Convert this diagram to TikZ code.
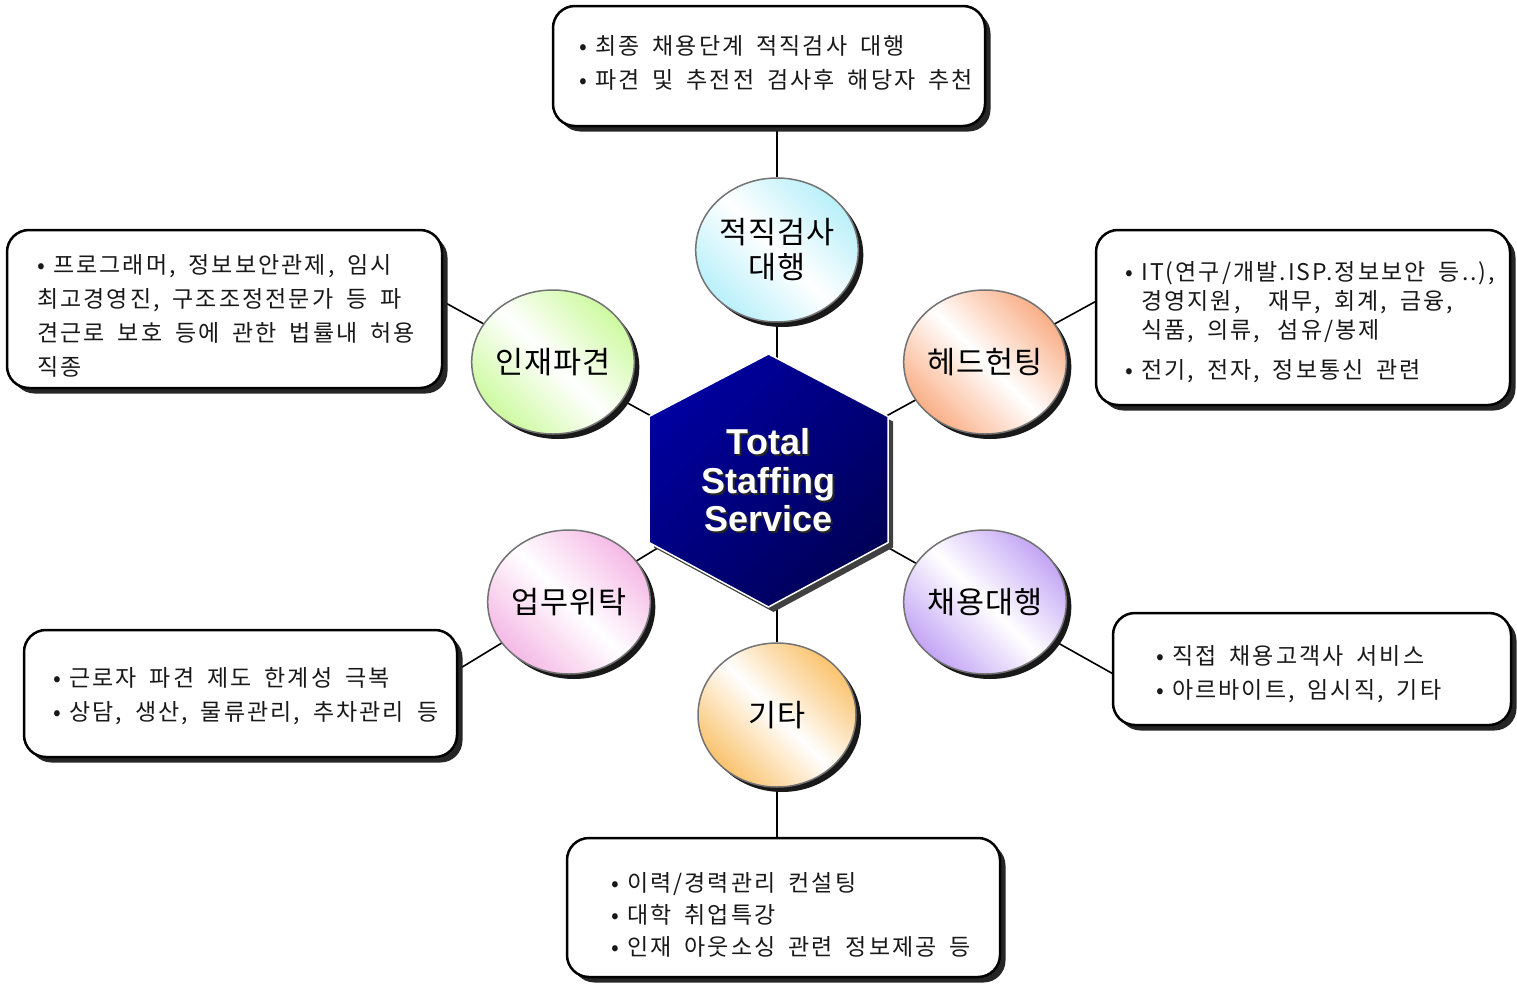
\documentclass[tikz,border=0pt]{standalone}
\usepackage{fontspec}
\setmainfont{Noto Sans CJK KR}[WordSpace=1.8,LetterSpace=9]
\newfontfamily\bubfont{Noto Sans CJK KR}[LetterSpace=3]
\newfontfamily\hexfont{Liberation Sans}[Ligatures=CommonOff]
\usetikzlibrary{shapes.geometric,shadows,backgrounds,calc}
\newcommand\bul{\makebox[16pt][l]{•}}
\definecolor{hexA}{RGB}{0,0,160}
\definecolor{hexB}{RGB}{0,0,88}
\definecolor{cCyan}{RGB}{185,240,250}
\definecolor{cGreen}{RGB}{205,250,160}
\definecolor{cPeach}{RGB}{250,175,135}
\definecolor{cPink}{RGB}{245,185,230}
\definecolor{cLav}{RGB}{195,165,245}
\definecolor{cOrange}{RGB}{250,195,110}
\definecolor{txt}{RGB}{25,25,25}
\tikzset{
  box/.style={draw=black, line width=2.5pt, fill=white, rounded corners=22pt, inner sep=0pt,
    drop shadow={shadow xshift=5.5pt, shadow yshift=-5.5pt, opacity=1, fill=black!85}},
  bubble/.style={ellipse, draw=black!55, line width=1.5pt, inner sep=0pt,
    minimum width=158pt, minimum height=144pt, align=center,
    font=\bubfont\fontsize{30.5}{35}\selectfont,
    drop shadow={shadow xshift=5pt, shadow yshift=-5pt, opacity=1, fill=black!90},
    top color=#1, bottom color=#1, middle color=white, shading angle=-45},
  line/.style={draw=black, line width=1.6pt},
  boxtext/.style={anchor=base west, inner sep=0pt, text=txt, font=\fontsize{23}{30}\selectfont},
  hextext/.style={align=center, inner sep=0pt, font=\hexfont\bfseries\fontsize{36}{38.5}\selectfont}
}
\begin{document}
\begin{tikzpicture}[x=1pt,y=-1pt]
\useasboundingbox (0,0) rectangle (1517,985);

% boxes
\node[box, minimum width=432pt, minimum height=120pt] (bTop) at (769,66) {};
\node[box, minimum width=435pt, minimum height=158pt] (bIn) at (224.5,309) {};
\node[box, minimum width=414pt, minimum height=175pt] (bHH) at (1303,317.5) {};
\node[box, minimum width=433pt, minimum height=127pt] (bEM) at (240.5,693.5) {};
\node[box, minimum width=398pt, minimum height=112pt] (bCY) at (1312,669) {};
\node[box, minimum width=433pt, minimum height=139pt] (bEtc) at (783.5,907.5) {};

% hexagon
\coordinate (hexc) at (768.5,480.5);
\filldraw[draw=white, line width=1.5pt, top color=hexA, bottom color=hexB, shading angle=45,
  drop shadow={shadow xshift=5pt, shadow yshift=-5pt, opacity=1, fill=black!75}]
  ($(hexc)+(0,-126.5)$) -- ($(hexc)+(119.5,-64)$) -- ($(hexc)+(119.5,62)$) --
  ($(hexc)+(0,126.5)$) -- ($(hexc)+(-119.5,62)$) -- ($(hexc)+(-119.5,-64)$) -- cycle;
\node[hextext, text=black!85] at ($(hexc)+(2,2)$) {Total\\Staffing\\Service};
\node[hextext, text=white] (hex) at (hexc) {Total\\Staffing\\Service};

% bubbles
\node[bubble=cCyan] (cTop) at (777,250) {적직검사\\대행};
\node[bubble=cGreen] (cIn) at (553,362) {인재파견};
\node[bubble=cPeach] (cHH) at (985,362) {헤드헌팅};
\node[bubble=cPink] (cEM) at (569,602) {업무위탁};
\node[bubble=cLav] (cCY) at (985,602) {채용대행};
\node[bubble=cOrange] (cEtc) at (777,715) {기타};

% connectors
\begin{scope}[on background layer]
\path[line] (cTop) -- (cTop |- hexc);
\path[line] (cTop) -- (cTop |- bTop.center);
\path[line] (cEtc) -- (cEtc |- hexc);
\path[line] (cEtc) -- (cEtc |- bEtc.center);
\path[line] (hexc) -- ($(hexc)!1.8!(cIn)$);
\path[line] (hexc) -- ($(hexc)!1.8!(cHH)$);
\path[line] (hexc) -- ($(hexc)!1.8!(cEM)$);
\path[line] (hexc) -- ($(hexc)!1.8!(cCY)$);
\end{scope}

% texts
\node[boxtext] (tTa) at (579,54) {\bul 최종 채용단계 적직검사 대행};
\node[boxtext] (tTb) at (579,88) {\bul 파견 및 추전전 검사후 해당자 추천};

\node[boxtext] (tIa) at (37,273) {\bul 프로그래머, 정보보안관제, 임시};
\node[boxtext] (tIb) at (37,307) {최고경영진, 구조조정전문가 등 파};
\node[boxtext] (tIc) at (37,341) {견근로 보호 등에 관한 법률내 허용};
\node[boxtext] (tId) at (37,375) {직종};

\node[boxtext] (tHa) at (1125,280) {\bul IT(연구/개발.ISP.정보보안 등..),};
\node[boxtext] (tHb) at (1141,309) {경영지원,\hspace{28pt}재무, 회계, 금융,};
\node[boxtext] (tHc) at (1141,338) {식품, 의류,\hspace{18pt}섬유/봉제};
\node[boxtext] (tHd) at (1125,378) {\bul 전기, 전자, 정보통신 관련};

\node[boxtext] (tEa) at (53,686) {\bul 근로자 파견 제도 한계성 극복};
\node[boxtext] (tEb) at (53,720) {\bul 상담, 생산, 물류관리, 추차관리 등};

\node[boxtext] (tCa) at (1156,664) {\bul 직접 채용고객사 서비스};
\node[boxtext] (tCb) at (1156,698) {\bul 아르바이트, 임시직, 기타};

\node[boxtext] (tXa) at (611,891) {\bul 이력/경력관리 컨설팅};
\node[boxtext] (tXb) at (611,923) {\bul 대학 취업특강};
\node[boxtext] (tXc) at (611,955) {\bul 인재 아웃소싱 관련 정보제공 등};
\end{tikzpicture}
\end{document}
